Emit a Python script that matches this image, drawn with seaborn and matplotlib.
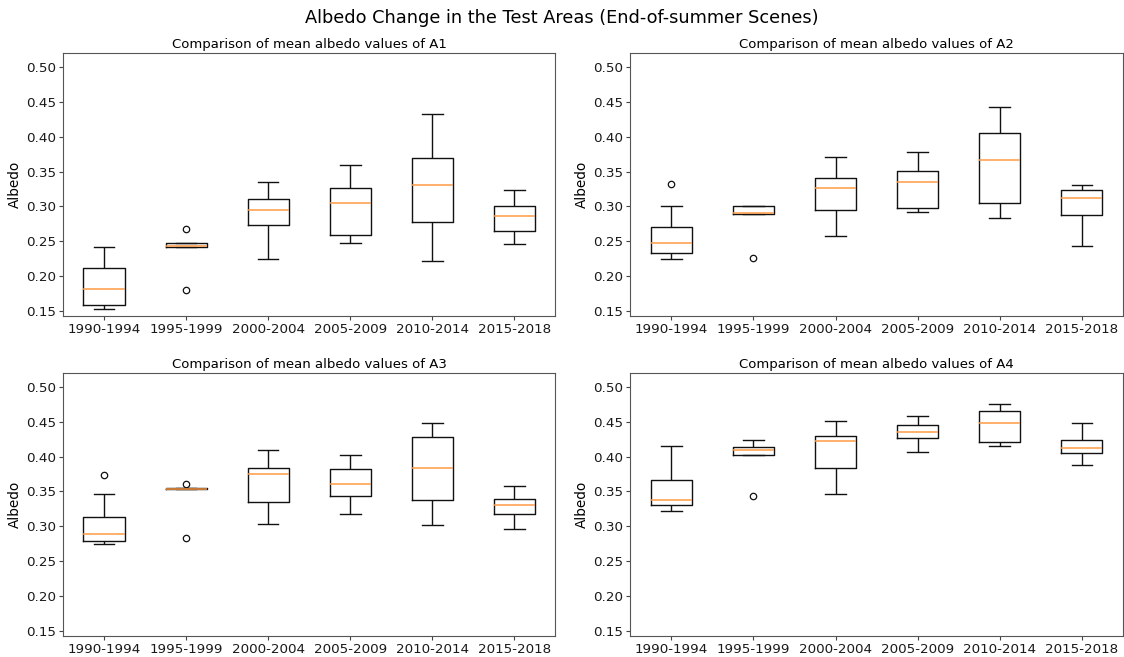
import matplotlib
matplotlib.use("Agg")
import matplotlib.pyplot as plt
import pandas as pd
import seaborn as sns

periods = ["1990-1994", "1995-1999", "2000-2004", "2005-2009", "2010-2014", "2015-2018"]

# Mean albedo of each end-of-summer scene, grouped by period
albedo_a1 = [
    [0.153, 0.159, 0.181, 0.212, 0.242],
    [0.180, 0.242, 0.243, 0.247, 0.267],
    [0.225, 0.273, 0.295, 0.310, 0.335],
    [0.247, 0.259, 0.305, 0.327, 0.359],
    [0.221, 0.278, 0.331, 0.369, 0.432],
    [0.246, 0.264, 0.286, 0.301, 0.323],
]
albedo_a2 = [
    [0.2245, 0.229, 0.233, 0.240, 0.247, 0.258, 0.270, 0.301, 0.332],
    [0.2254, 0.289, 0.290, 0.300, 0.300],
    [0.258, 0.295, 0.327, 0.341, 0.371],
    [0.292, 0.297, 0.335, 0.351, 0.378],
    [0.283, 0.305, 0.367, 0.406, 0.443],
    [0.243, 0.287, 0.312, 0.324, 0.331],
]
albedo_a3 = [
    [0.274, 0.276, 0.279, 0.284, 0.289, 0.300, 0.313, 0.346, 0.373],
    [0.2826, 0.353, 0.354, 0.3555, 0.360],
    [0.303, 0.335, 0.375, 0.384, 0.409],
    [0.318, 0.343, 0.361, 0.382, 0.402],
    [0.302, 0.338, 0.383, 0.428, 0.448],
    [0.296, 0.317, 0.331, 0.339, 0.358],
]
albedo_a4 = [
    [0.322, 0.331, 0.338, 0.366, 0.415],
    [0.344, 0.402, 0.409, 0.414, 0.424],
    [0.347, 0.384, 0.423, 0.430, 0.451],
    [0.407, 0.427, 0.436, 0.446, 0.458],
    [0.4155, 0.421, 0.448, 0.465, 0.475],
    [0.388, 0.405, 0.413, 0.424, 0.449],
]

areas = ["A1", "A2", "A3", "A4"]
area_values = [albedo_a1, albedo_a2, albedo_a3, albedo_a4]


def to_frame(values):
    rows = []
    for period, scenes in zip(periods, values):
        for v in scenes:
            rows.append({"period": period, "albedo": v})
    return pd.DataFrame(rows)


fig, axes = plt.subplots(2, 2, figsize=(11.24, 6.57), dpi=100)
fig.subplots_adjust(left=0.056, right=0.999, bottom=0.032, top=0.919,
                    wspace=0.152, hspace=0.217)

for ax, area, values in zip(axes.flat, areas, area_values):
    df = to_frame(values)
    sns.boxplot(
        data=df, x="period", y="albedo", order=periods, ax=ax,
        width=0.5, fill=False, color="#111111", linewidth=1.0,
        whis=1.5,
        medianprops={"color": "#ff9a45", "linewidth": 1.1},
        flierprops={"marker": "o", "markerfacecolor": "none",
                    "markeredgecolor": "#111111", "markersize": 4.6,
                    "markeredgewidth": 0.9},
    )
    ax.set_ylim(0.1424, 0.520)
    ax.set_xlim(-0.5, 5.5)
    ax.set_xlabel("")
    ax.set_ylabel("Albedo", fontsize=9.8, labelpad=3)
    ax.set_title(f"Comparison of mean albedo values of {area}", fontsize=9.5, pad=4)
    ax.tick_params(labelsize=9.7, length=2.6, pad=2.4, color="#444444",
                   labelcolor="#1a1a1a")
    for spine in ax.spines.values():
        spine.set_color("#555555")

fig.suptitle("Albedo Change in the Test Areas (End-of-summer Scenes)",
             fontsize=12.8, y=0.986)

fig.savefig("out.png", dpi=100)
